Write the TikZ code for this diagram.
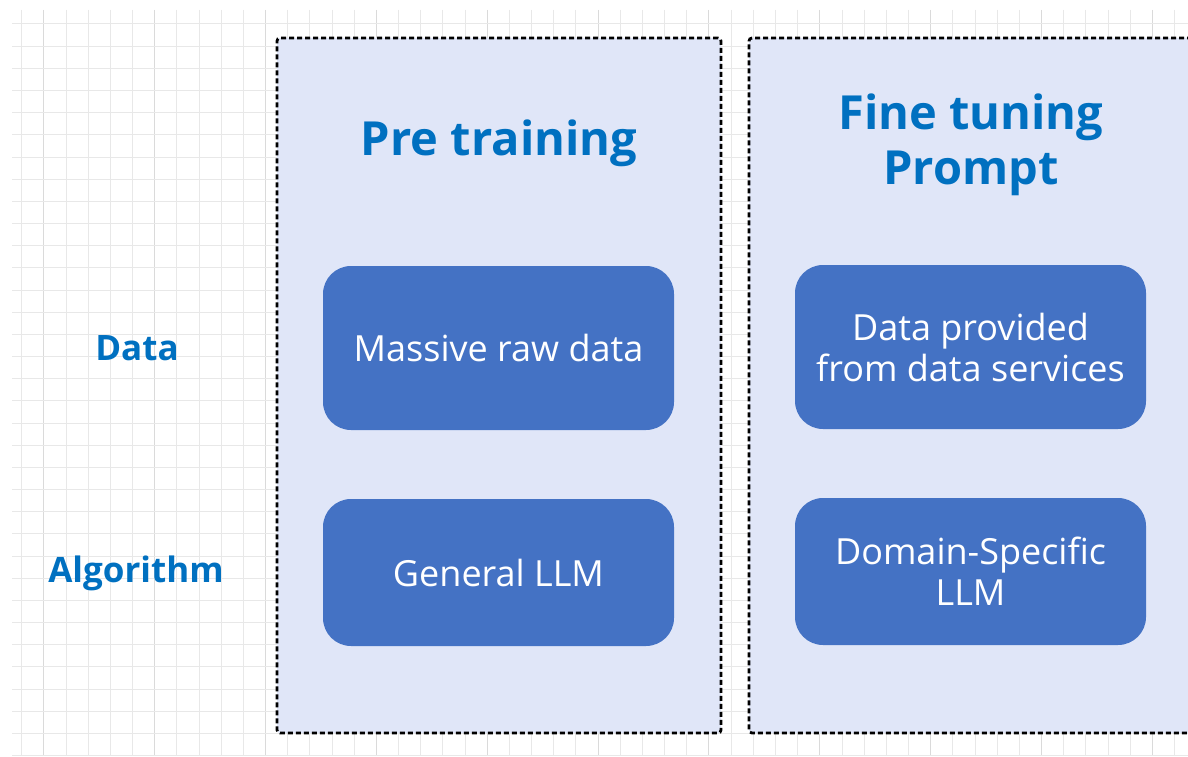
\documentclass[tikz,border=0pt]{standalone}
\usepackage{fontspec}
\setmainfont{Open Sans}
\usetikzlibrary{positioning}
\definecolor{boxblue}{HTML}{4472C4}
\definecolor{titleblue}{HTML}{0070C0}
\definecolor{panelfill}{HTML}{E0E6F8}
\definecolor{gridminor}{HTML}{E8E8E8}
\definecolor{gridmajor}{HTML}{DADADA}

\tikzset{
 gridline/.style={gridminor, line width=1pt},
 panel/.style={draw=black, line width=2.8pt, dash pattern=on 5pt off 3pt, fill=panelfill, rounded corners=3pt, minimum height=695pt, inner sep=0pt},
 blockbox/.style={fill=boxblue, rounded corners=28pt, minimum width=351pt, text=white, align=center, font=\fontsize{36}{41}\selectfont},
 stagetitle/.style={text=titleblue, align=center, font=\bfseries\fontsize{47}{55}\selectfont},
 rowlabel/.style={text=titleblue, font=\bfseries\fontsize{35}{40}\selectfont}
}

\begin{document}
\begin{tikzpicture}[x=1pt, y=-1pt]
\clip (0,0) rectangle (1188,757);
\fill[white] (0,0) rectangle (1188,757);
% background grid
\foreach \i [evaluate=\i as \xi using {21.7+22.17*\i}] in {0,...,52} {
 \ifnum\numexpr\i-5*(\i/5)\relax=1
  \draw[gridline, gridmajor] (\xi,10)--(\xi,756);
 \else
  \draw[gridline] (\xi,10)--(\xi,756);
 \fi
 }
\foreach \j [evaluate=\j as \yj using {24+22.17*\j}] in {0,...,33} {
 \draw[gridline] (12,\yj)--(1188,\yj);
 }
% the two stages
\node[panel, minimum width=444pt] (pretrain) at (499,385.5) {};
\node[panel, minimum width=470pt] (finetune) at (984,385.5) {};
\node[stagetitle] (pretitle) at (499,143) {Pre training};
\node[stagetitle] (finetitle) at (971,145) {Fine tuning\\Prompt};
% boxes
\node[blockbox, minimum height=164pt] (rawdata) at (498.5,348) {Massive raw data};
\node[blockbox, minimum height=164pt] (servicedata) at (970.5,347) {Data provided\\from data services};
\node[blockbox, minimum height=147pt] (generalllm) at (498.5,572.5) {General LLM};
\node[blockbox, minimum height=147pt] (domainllm) at (970.5,571.5) {Domain-Specific\\LLM};
% row labels
\node[rowlabel] (datalabel) at (137,348) {Data};
\node[rowlabel] (algolabel) at (136,573) {Algorithm};
\end{tikzpicture}
\end{document}
